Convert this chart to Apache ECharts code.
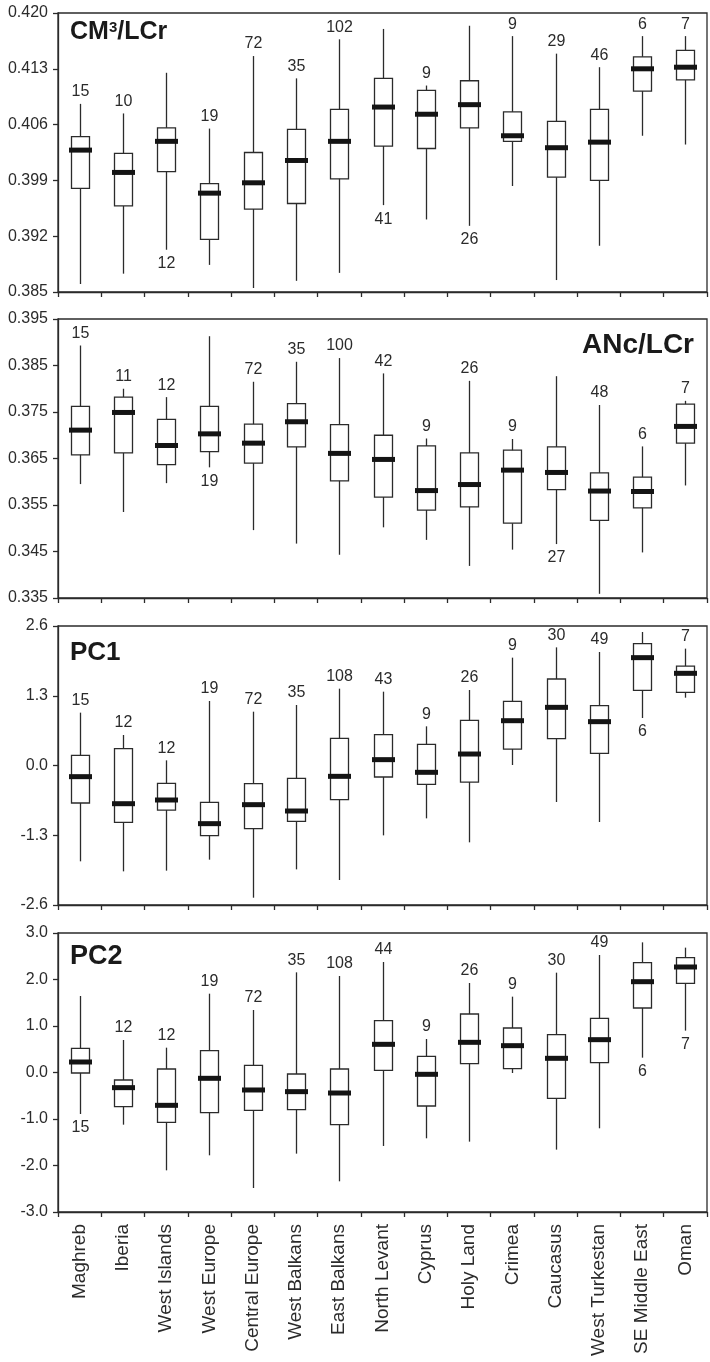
<!DOCTYPE html>
<html><head><meta charset="utf-8">
<script src="https://cdn.jsdelivr.net/npm/echarts@6/dist/echarts.min.js"></script>
<style>html,body{margin:0;padding:0;background:#fff}#c{width:710px;height:1362px}</style>
</head><body><div id="c"></div>
<script>
// ---------- DATA ----------
const categories = ['Maghreb','Iberia','West Islands','West Europe','Central Europe','West Balkans','East Balkans','North Levant','Cyprus','Holy Land','Crimea','Caucasus','West Turkestan','SE Middle East','Oman'];

// each box: [min, Q1, median, Q3, max]
const cmBoxes = [
  [0.3860,0.3980,0.4028,0.4045,0.4086],
  [0.3873,0.3958,0.4000,0.4024,0.4074],
  [0.3903,0.4001,0.4039,0.4056,0.4125],
  [0.3884,0.3916,0.3974,0.3986,0.4055],
  [0.3855,0.3954,0.3987,0.4025,0.4146],
  [0.3864,0.3961,0.4015,0.4054,0.4118],
  [0.3874,0.3992,0.4039,0.4079,0.4167],
  [0.3959,0.4033,0.4082,0.4118,0.4180],
  [0.3941,0.4030,0.4073,0.4103,0.4109],
  [0.3933,0.4056,0.4085,0.4115,0.4184],
  [0.3983,0.4039,0.4046,0.4076,0.4171],
  [0.3865,0.3994,0.4031,0.4064,0.4149],
  [0.3908,0.3990,0.4038,0.4079,0.4132],
  [0.4046,0.4102,0.4130,0.4145,0.4171],
  [0.4035,0.4116,0.4132,0.4153,0.4171]
];
const cmCounts = [15,10,12,19,72,35,102,41,9,26,9,29,46,6,7];
const cmCountPos = ['a','a','b','a','a','a','a','b','a','b','a','a','a','a','a'];
const cmTickLabels = ['0.385','0.392','0.399','0.406','0.413','0.420'];

const ancBoxes = [
  [0.3595,0.3658,0.3711,0.3762,0.3893],
  [0.3535,0.3662,0.3749,0.3782,0.3800],
  [0.3597,0.3637,0.3678,0.3734,0.3782],
  [0.3631,0.3665,0.3703,0.3762,0.3913],
  [0.3496,0.3640,0.3683,0.3724,0.3815],
  [0.3467,0.3675,0.3729,0.3768,0.3858],
  [0.3443,0.3602,0.3661,0.3723,0.3866],
  [0.3502,0.3567,0.3648,0.3700,0.3833],
  [0.3475,0.3539,0.3581,0.3677,0.3693],
  [0.3419,0.3546,0.3594,0.3662,0.3817],
  [0.3454,0.3511,0.3625,0.3668,0.3692],
  [0.3466,0.3583,0.3620,0.3675,0.3827],
  [0.3359,0.3517,0.3580,0.3619,0.3765],
  [0.3448,0.3544,0.3579,0.3610,0.3676],
  [0.3592,0.3683,0.3719,0.3767,0.3774]
];
const ancCounts = [15,11,12,19,72,35,100,42,9,26,9,27,48,6,7];
const ancCountPos = ['a','a','a','b','a','a','a','a','a','a','a','b','a','a','a'];
const ancTickLabels = ['0.335','0.345','0.355','0.365','0.375','0.385','0.395'];

const pc1Boxes = [
  [-1.786,-0.699,-0.208,0.189,0.985],
  [-1.973,-1.059,-0.712,0.314,0.568],
  [-1.960,-0.830,-0.643,-0.333,0.096],
  [-1.755,-1.308,-1.084,-0.687,1.202],
  [-2.464,-1.178,-0.730,-0.339,1.003],
  [-1.936,-1.041,-0.848,-0.239,1.128],
  [-2.134,-0.637,-0.202,0.506,1.432],
  [-1.302,-0.214,0.109,0.575,1.376],
  [-0.985,-0.351,-0.127,0.394,0.730],
  [-1.432,-0.308,0.214,0.842,1.407],
  [0.009,0.307,0.835,1.196,2.010],
  [-0.680,0.500,1.084,1.612,2.202],
  [-1.053,0.227,0.817,1.115,2.115],
  [0.885,1.401,2.010,2.271,2.488],
  [1.264,1.364,1.718,1.854,2.178]
];
const pc1Counts = [15,12,12,19,72,35,108,43,9,26,9,30,49,6,7];
const pc1CountPos = ['a','a','a','a','a','a','a','a','a','a','a','a','a','b','a'];
const pc1TickLabels = ['-2.6','-1.3','0.0','1.3','2.6'];

const pc2Boxes = [
  [-0.892,-0.011,0.226,0.520,1.645],
  [-1.122,-0.735,-0.326,-0.161,0.699],
  [-2.104,-1.071,-0.706,0.075,0.534],
  [-1.781,-0.864,-0.125,0.470,1.695],
  [-2.484,-0.813,-0.376,0.154,1.344],
  [-1.745,-0.799,-0.412,-0.032,2.154],
  [-2.340,-1.122,-0.441,0.075,2.075],
  [-1.580,0.047,0.606,1.115,2.376],
  [-1.415,-0.720,-0.039,0.348,0.721],
  [-1.487,0.190,0.649,1.258,1.925],
  [-0.011,0.083,0.577,0.957,1.631],
  [-1.659,-0.555,0.305,0.814,2.147],
  [-1.200,0.212,0.706,1.165,2.527],
  [0.319,1.387,1.953,2.362,2.799],
  [0.900,1.918,2.269,2.470,2.685]
];
const pc2Counts = [15,12,12,19,72,35,108,44,9,26,9,30,49,6,7];
const pc2CountPos = ['b','a','a','a','a','a','a','a','a','a','a','a','a','b','b'];
const pc2TickLabels = ['-3.0','-2.0','-1.0','0.0','1.0','2.0','3.0'];

// ---------- CHART ----------
const INK = '#2b2b2b';
const FONT = '"Liberation Sans", Arial, Helvetica, sans-serif';
const panels = [
  {boxes: cmBoxes, counts: cmCounts, pos: cmCountPos, ticks: cmTickLabels, top: 13},
  {boxes: ancBoxes, counts: ancCounts, pos: ancCountPos, ticks: ancTickLabels, top: 319},
  {boxes: pc1Boxes, counts: pc1Counts, pos: pc1CountPos, ticks: pc1TickLabels, top: 626},
  {boxes: pc2Boxes, counts: pc2Counts, pos: pc2CountPos, ticks: pc2TickLabels, top: 933}
];

function makeRender(p) {
  return function (params, api) {
    const i = params.dataIndex;
    const x = api.value(0);
    const pMin = api.coord([x, api.value(1)]);
    const yQ1 = api.coord([x, api.value(2)])[1];
    const yMed = api.coord([x, api.value(3)])[1];
    const yQ3 = api.coord([x, api.value(4)])[1];
    const yMax = api.coord([x, api.value(5)])[1];
    const cx = Math.round(pMin[0]) + 0.5;
    const yMin = pMin[1];
    const above = p.pos[i] === 'a';
    return {
      type: 'group',
      children: [
        {type: 'line', shape: {x1: cx, y1: yMax, x2: cx, y2: yMin}, style: {stroke: INK, lineWidth: 1.3}},
        {type: 'rect', shape: {x: cx - 9, y: yQ3, width: 18, height: yQ1 - yQ3}, style: {fill: '#fff', stroke: INK, lineWidth: 1.3}},
        {type: 'rect', shape: {x: cx - 11.5, y: yMed - 2.5, width: 23, height: 5}, style: {fill: '#141414'}},
        {type: 'text', style: {
          text: String(p.counts[i]), x: cx, y: above ? yMax - 4 : yMin + 6,
          align: 'center', verticalAlign: above ? 'bottom' : 'top',
          fontSize: 16, fontFamily: FONT, fill: INK
        }}
      ]
    };
  };
}

const grid = [], xAxis = [], yAxis = [], series = [];
panels.forEach((p, k) => {
  const tickVals = p.ticks.map(Number);
  const off = tickVals[0];
  const step = tickVals[1] - tickVals[0];
  const tf = v => (v - off) / step;
  grid.push({left: 58, width: 649, top: p.top, height: 279, show: true, borderColor: INK, borderWidth: 1.3, backgroundColor: 'transparent'});
  xAxis.push({
    type: 'category', gridIndex: k, data: categories, boundaryGap: true,
    axisLine: {show: true, lineStyle: {color: INK, width: 1.3}},
    axisTick: {show: true, interval: 0, length: 5, inside: false, lineStyle: {color: INK, width: 1.3}},
    axisLabel: k === 3 ? {show: true, interval: 0, rotate: 90, fontSize: 19, fontFamily: FONT, color: INK, margin: 12} : {show: false},
    splitLine: {show: false}
  });
  yAxis.push({
    type: 'value', gridIndex: k, min: 0, max: tickVals.length - 1, interval: 1,
    axisLine: {show: true, lineStyle: {color: INK, width: 1.3}},
    axisTick: {show: true, length: 5, inside: false, lineStyle: {color: INK, width: 1.3}},
    axisLabel: {show: true, fontSize: 16, fontFamily: FONT, color: INK, margin: 10,
      formatter: v => p.ticks[Math.round(v)]},
    splitLine: {show: false}
  });
  series.push({
    type: 'custom', xAxisIndex: k, yAxisIndex: k,
    renderItem: makeRender(p),
    encode: {x: 0, y: [1, 2, 3, 4, 5]},
    data: p.boxes.map((b, i) => [i].concat(b.map(tf))),
    silent: true
  });
});

const chart = echarts.init(document.getElementById('c'), null, {renderer: 'canvas'});
chart.setOption({
  animation: false,
  backgroundColor: '#fff',
  grid, xAxis, yAxis, series,
  graphic: [
    {type: 'text', left: 70, top: 20, z: 100, style: {
      text: '{b|CM}{s|3}{b|/LCr}',
      rich: {
        b: {fontSize: 25, fontWeight: 'bold', fontFamily: FONT, fill: '#1a1a1a'},
        s: {fontSize: 15, fontWeight: 'bold', fontFamily: FONT, fill: '#1a1a1a', verticalAlign: 'top'}
      }
    }},
    {type: 'text', right: 16, top: 331, z: 100, style: {text: 'ANc/LCr', fontSize: 28, fontWeight: 'bold', fontFamily: FONT, fill: '#1a1a1a'}},
    {type: 'text', left: 70, top: 640, z: 100, style: {text: 'PC1', fontSize: 26, fontWeight: 'bold', fontFamily: FONT, fill: '#1a1a1a'}},
    {type: 'text', left: 70, top: 943, z: 100, style: {text: 'PC2', fontSize: 27, fontWeight: 'bold', fontFamily: FONT, fill: '#1a1a1a'}}
  ]
});
</script>
</body></html>
